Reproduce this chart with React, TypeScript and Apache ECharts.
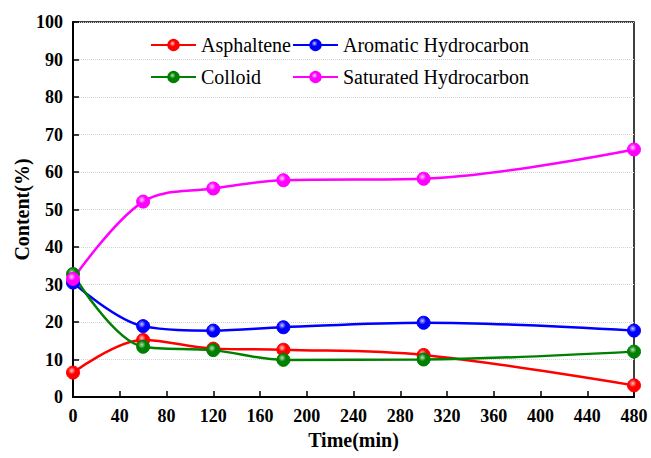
import React, { useEffect, useRef } from "react";
import * as echarts from "echarts";

const times = [0, 60, 120, 180, 300, 480];
const asphaltene = [6.5, 15.2, 12.9, 12.6, 11.2, 3.1];
const aromatic = [30.5, 18.9, 17.7, 18.6, 19.8, 17.7];
const colloid = [32.8, 13.4, 12.5, 9.9, 10.0, 12.1];
const saturated = [31.5, 52.1, 55.6, 57.8, 58.2, 66.0];

const FONT = "Liberation Serif";

function ball(color: string, light: string) {
  return new echarts.graphic.RadialGradient(0.4, 0.35, 0.65, [
    { offset: 0, color: light },
    { offset: 0.45, color: color },
    { offset: 1, color: color },
  ]);
}

function mk(name: string, data: number[], color: string, light: string) {
  return {
    name,
    type: "line",
    smooth: 0.35,
    data: times.map((t, i) => [t, data[i]]),
    symbol: "circle",
    symbolSize: 13,
    lineStyle: { color, width: 2.5 },
    itemStyle: { color: ball(color, light), borderColor: color, borderWidth: 1 },
    z: 3,
  };
}

export default function App() {
  const ref = useRef<HTMLDivElement>(null);
  useEffect(() => {
    document.body.style.margin = "0";
    const chart = echarts.init(ref.current!, undefined, { renderer: "svg" });
    const axisLabel = { fontFamily: FONT, fontWeight: "bold", fontSize: 18, color: "#000" };
    const legendBase = {
      orient: "vertical",
      top: 30,
      padding: 5,
      itemWidth: 45,
      itemHeight: 13,
      itemGap: 12,
      textStyle: { fontFamily: FONT, fontSize: 20, color: "#000" },
    };
    chart.setOption({
      animation: false,
      backgroundColor: "#fff",
      textStyle: { fontFamily: FONT },
      grid: {
        left: 73,
        right: 17,
        top: 22,
        bottom: 61,
        containLabel: false,
        outerBoundsMode: "none",
        show: true,
        borderColor: "#000",
        borderWidth: 1.5,
        backgroundColor: "transparent",
      },
      legend: [
        { ...legendBase, left: 145, data: ["Asphaltene", "Colloid"] },
        { ...legendBase, left: 287, data: ["Aromatic Hydrocarbon", "Saturated Hydrocarbon"] },
      ],
      xAxis: {
        type: "value",
        min: 0,
        max: 480,
        interval: 40,
        name: "Time(min)",
        nameLocation: "middle",
        nameGap: 33,
        nameMoveOverlap: false,
        nameTextStyle: { fontFamily: FONT, fontWeight: "bold", fontSize: 20, color: "#000" },
        axisLine: { show: true, lineStyle: { color: "#000", width: 2 } },
        axisTick: { show: true, inside: true, length: 6, lineStyle: { color: "#000", width: 1.5 } },
        axisLabel: { ...axisLabel, margin: 10 },
        splitLine: { show: false },
      },
      yAxis: {
        type: "value",
        min: 0,
        max: 100,
        interval: 10,
        name: "Content(%)",
        nameLocation: "middle",
        nameGap: 41,
        nameMoveOverlap: false,
        nameTextStyle: { fontFamily: FONT, fontWeight: "bold", fontSize: 20, color: "#000" },
        axisLine: { show: true, lineStyle: { color: "#000", width: 2 } },
        axisTick: { show: true, inside: true, length: 6, lineStyle: { color: "#000", width: 1.5 } },
        axisLabel: { ...axisLabel, margin: 10 },
        splitLine: { show: true, lineStyle: { color: "#d4d4d4", type: "dotted", width: 1 } },
      },
      series: [
        mk("Asphaltene", asphaltene, "#ff0000", "#ffc8c8"),
        mk("Aromatic Hydrocarbon", aromatic, "#0000ff", "#c8c8ff"),
        mk("Colloid", colloid, "#008000", "#b8e0b8"),
        mk("Saturated Hydrocarbon", saturated, "#ff00ff", "#ffd0ff"),
      ],
    });
    return () => chart.dispose();
  }, []);
  return <div ref={ref} style={{ width: 651, height: 458 }} />;
}
